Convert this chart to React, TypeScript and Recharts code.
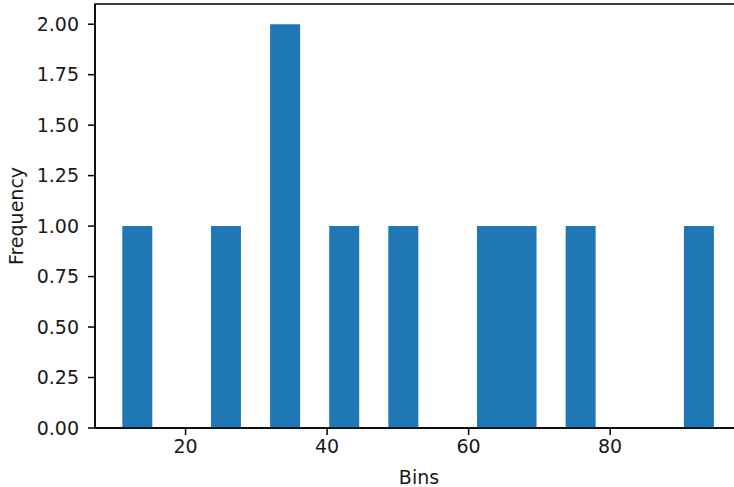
import { ComposedChart, Bar, XAxis, YAxis, ReferenceArea } from "recharts";

// histogram: 20 equal bins between the data min and max
const binLow = 11.06;
const binHigh = 94.6;
const counts = [1, 0, 0, 1, 0, 2, 0, 1, 0, 1, 0, 0, 1, 1, 0, 1, 0, 0, 0, 1];
const xTicks = [20, 40, 60, 80];
const yTicks = [0, 0.25, 0.5, 0.75, 1.0, 1.25, 1.5, 1.75, 2.0];
const xMin = 7.2;

const binWidth = (binHigh - binLow) / counts.length;
const data = counts.map((c, i) => ({
  bin: i,
  mid: binLow + binWidth * (i + 0.5),
  count: c,
}));
const span = binHigh - binLow;
const xDomain = [xMin, binHigh + 0.05 * span];

// the original figure is cropped on the right, so the axes run past the window
const W = 743;
const H = 487;
const plotLeft = 95;
const plotW = W - plotLeft;
const ppu = plotW / (xDomain[1] - xDomain[0]);
const padL = (binLow - xDomain[0]) * ppu;
const padR = (xDomain[1] - binHigh) * ppu;

const font = "DejaVu Sans, sans-serif";
const ink = "#1a1a1a";
const fs = 19;

const YLabel = ({ viewBox }: any) => {
  const cy = viewBox.y + viewBox.height / 2;
  return (
    <text
      x={16}
      y={cy}
      transform={`rotate(-90, 16, ${cy})`}
      textAnchor="middle"
      dominantBaseline="central"
      fontFamily={font}
      fontSize={fs}
      fill={ink}
    >
      Frequency
    </text>
  );
};

export default function App() {
  return (
    <div style={{ position: "absolute", left: 0, top: 0, width: 734, height: H, overflow: "hidden", background: "#fff" }}>
      <ComposedChart
        width={W}
        height={H}
        data={data}
        barCategoryGap={0}
        margin={{ top: 4, right: 0, left: 0, bottom: 0 }}
      >
        <XAxis xAxisId="bins" dataKey="bin" type="category" hide height={0} padding={{ left: padL, right: padR }} />
        <XAxis
          xAxisId="num"
          dataKey="mid"
          type="number"
          domain={xDomain}
          allowDataOverflow
          ticks={xTicks}
          height={59}
          tickSize={7}
          tickMargin={5}
          stroke="#000"
          strokeWidth={1.5}
          tick={{ fill: ink, fontSize: fs, fontFamily: font }}
          label={{
            value: "Bins",
            position: "insideBottom",
            offset: 3,
            fill: ink,
            fontSize: fs,
            fontFamily: font,
          }}
        />
        <YAxis
          domain={[0, 2.1]}
          ticks={yTicks}
          width={plotLeft}
          tickSize={7}
          tickMargin={9}
          stroke="#000"
          strokeWidth={1.5}
          tickFormatter={(v: number) => v.toFixed(2)}
          tick={{ fill: ink, fontSize: fs, fontFamily: font }}
          label={<YLabel />}
        />
        <Bar xAxisId="bins" dataKey="count" fill="#1f77b4" isAnimationActive={false} />
        <ReferenceArea
          xAxisId="num"
          x1={xDomain[0]}
          x2={xDomain[1]}
          y1={0}
          y2={2.1}
          fill="none"
          stroke="#000"
          strokeWidth={1.5}
        />
      </ComposedChart>
    </div>
  );
}
